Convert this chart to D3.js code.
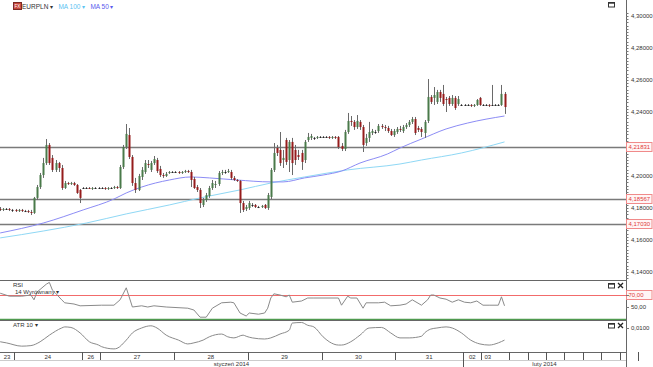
<!DOCTYPE html>
<html lang="pl">
<head>
<meta charset="UTF-8" />
<title>EURPLN</title>
<style>
    html, body { margin: 0; padding: 0; background: #fff; }
    svg { display: block; font-family: "Liberation Sans", Arial, sans-serif; }
    .lbl { font-size: 6px; fill: #333; }
</style>
</head>
<body>
<svg id="chart" width="653" height="367"></svg>
<script src="https://cdn.jsdelivr.net/npm/d3@7"></script>
<script>
// hourly EURPLN candles
const days = ["23", "24", "26", "27", "28", "29", "30", "31", "02", "03"];
const daySlots = [5, 22, 6, 24, 24, 24, 24, 22, 6, 9];
const futureSlots = [6, 6, 6, 6, 6, 6, 6];
const months = ["styczeń 2014", "luty 2014"];
const monthStartDay = [0, 8];

const opens = [
    4.1794,4.1788,4.1794,4.1794,4.1788,4.1788,4.1781,4.1788,4.1781,4.1781,
    4.1775,4.1769,4.1863,4.1931,4.2006,4.2081,4.2194,4.2113,4.2038,4.2081,
    4.2050,4.1925,4.1956,4.1950,4.1956,4.1944,4.1913,4.1925,4.1925,4.1925,
    4.1919,4.1925,4.1925,4.1925,4.1925,4.1919,4.1925,4.1925,4.1931,4.1925,
    4.2056,4.2181,4.2256,4.2119,4.1956,4.1913,4.1994,4.2025,4.2075,4.2038,
    4.2081,4.2100,4.2044,4.2006,4.2000,4.2019,4.2025,4.2025,4.2025,4.2019,
    4.2025,4.2031,4.2025,4.1981,4.1931,4.1913,4.1819,4.1850,4.1875,4.1925,
    4.1944,4.1950,4.2019,4.2025,4.2025,4.2025,4.1988,4.1975,4.1969,4.1831,
    4.1794,4.1800,4.1819,4.1819,4.1806,4.1806,4.1819,4.1800,4.1869,4.2038,
    4.2175,4.2163,4.2100,4.2225,4.2100,4.2213,4.2163,4.2131,4.2144,4.2100,
    4.2225,4.2238,4.2238,4.2238,4.2244,4.2244,4.2244,4.2244,4.2238,4.2244,
    4.2244,4.2188,4.2169,4.2275,4.2344,4.2338,4.2306,4.2338,4.2306,4.2206,
    4.2238,4.2269,4.2275,4.2281,4.2313,4.2306,4.2300,4.2281,4.2256,4.2275,
    4.2294,4.2281,4.2306,4.2319,4.2338,4.2356,4.2300,4.2294,4.2269,4.2344,
    4.2494,4.2488,4.2463,4.2525,4.2513,4.2481,4.2488,4.2450,4.2488,4.2450,
    4.2444,4.2444,4.2444,4.2444,4.2438,4.2444,4.2488,4.2444,4.2444,4.2444,
    4.2444,4.2444,4.2444,4.2444,4.2513
];
const highs = [
    4.1806,4.1800,4.1800,4.1800,4.1794,4.1794,4.1794,4.1794,4.1788,4.1788,
    4.1788,4.1869,4.1944,4.2019,4.2113,4.2231,4.2206,4.2131,4.2100,4.2088,
    4.2069,4.1969,4.1963,4.1963,4.1963,4.1950,4.1919,4.1931,4.1931,4.1931,
    4.1931,4.1931,4.1931,4.1931,4.1931,4.1931,4.1931,4.1938,4.1938,4.2069,
    4.2194,4.2325,4.2300,4.2131,4.1988,4.2013,4.2056,4.2100,4.2100,4.2094,
    4.2125,4.2113,4.2063,4.2019,4.2025,4.2031,4.2031,4.2031,4.2031,4.2031,
    4.2038,4.2038,4.2038,4.1994,4.1944,4.1925,4.1863,4.1894,4.1938,4.1975,
    4.1969,4.2031,4.2038,4.2038,4.2044,4.2038,4.2000,4.1981,4.1975,4.1844,
    4.1819,4.1844,4.1831,4.1825,4.1813,4.1819,4.1825,4.1894,4.2050,4.2206,
    4.2194,4.2275,4.2163,4.2238,4.2225,4.2238,4.2194,4.2163,4.2163,4.2225,
    4.2269,4.2263,4.2244,4.2250,4.2250,4.2250,4.2250,4.2250,4.2250,4.2250,
    4.2250,4.2206,4.2288,4.2394,4.2375,4.2350,4.2381,4.2350,4.2319,4.2263,
    4.2338,4.2294,4.2288,4.2325,4.2325,4.2319,4.2313,4.2294,4.2294,4.2306,
    4.2313,4.2319,4.2331,4.2350,4.2369,4.2369,4.2313,4.2306,4.2350,4.2606,
    4.2506,4.2556,4.2538,4.2538,4.2569,4.2494,4.2500,4.2506,4.2500,4.2500,
    4.2450,4.2450,4.2450,4.2450,4.2450,4.2481,4.2494,4.2450,4.2450,4.2450,
    4.2569,4.2450,4.2450,4.2569,4.2525
];
const lows = [
    4.1781,4.1781,4.1788,4.1781,4.1775,4.1775,4.1775,4.1775,4.1775,4.1769,
    4.1756,4.1763,4.1850,4.1919,4.1988,4.2069,4.2069,4.2025,4.2025,4.2025,
    4.1913,4.1919,4.1944,4.1944,4.1938,4.1888,4.1831,4.1919,4.1919,4.1919,
    4.1913,4.1919,4.1919,4.1919,4.1913,4.1913,4.1919,4.1919,4.1919,4.1919,
    4.2044,4.2169,4.2106,4.1938,4.1894,4.1906,4.1975,4.2013,4.2050,4.2025,
    4.2069,4.2019,4.1994,4.1988,4.1994,4.2013,4.2019,4.2019,4.2013,4.2013,
    4.2019,4.2019,4.1931,4.1919,4.1900,4.1800,4.1806,4.1838,4.1863,4.1913,
    4.1925,4.1938,4.2006,4.2013,4.2019,4.1975,4.1969,4.1963,4.1769,4.1775,
    4.1781,4.1788,4.1806,4.1800,4.1800,4.1800,4.1794,4.1788,4.1856,4.2025,
    4.2125,4.2063,4.2050,4.2069,4.2025,4.2006,4.2069,4.2100,4.2038,4.2081,
    4.2213,4.2225,4.2225,4.2231,4.2238,4.2238,4.2238,4.2231,4.2231,4.2231,
    4.2169,4.2156,4.2156,4.2263,4.2313,4.2288,4.2294,4.2288,4.2150,4.2188,
    4.2213,4.2256,4.2263,4.2269,4.2294,4.2281,4.2269,4.2250,4.2244,4.2263,
    4.2275,4.2269,4.2294,4.2306,4.2325,4.2256,4.2275,4.2244,4.2238,4.2331,
    4.2450,4.2444,4.2450,4.2463,4.2438,4.2400,4.2438,4.2438,4.2413,4.2438,
    4.2438,4.2438,4.2438,4.2431,4.2431,4.2438,4.2438,4.2438,4.2438,4.2431,
    4.2438,4.2438,4.2438,4.2438,4.2388
];
const closes = [
    4.1788,4.1794,4.1794,4.1788,4.1788,4.1781,4.1788,4.1781,4.1781,4.1775,
    4.1769,4.1863,4.1931,4.2006,4.2081,4.2194,4.2081,4.2038,4.2081,4.2050,
    4.1925,4.1956,4.1950,4.1956,4.1944,4.1894,4.1863,4.1925,4.1925,4.1919,
    4.1925,4.1925,4.1925,4.1925,4.1919,4.1925,4.1925,4.1931,4.1925,4.2056,
    4.2181,4.2263,4.2119,4.1956,4.1913,4.2000,4.2038,4.2081,4.2069,4.2081,
    4.2106,4.2031,4.2006,4.2000,4.2013,4.2025,4.2025,4.2025,4.2019,4.2025,
    4.2031,4.2025,4.1975,4.1925,4.1913,4.1831,4.1850,4.1881,4.1925,4.1956,
    4.1950,4.2019,4.2025,4.2025,4.2031,4.1988,4.1975,4.1969,4.1831,4.1788,
    4.1806,4.1831,4.1819,4.1806,4.1806,4.1813,4.1800,4.1881,4.2038,4.2144,
    4.2144,4.2081,4.2113,4.2088,4.2213,4.2081,4.2100,4.2119,4.2088,4.2213,
    4.2244,4.2250,4.2238,4.2244,4.2244,4.2244,4.2244,4.2238,4.2244,4.2238,
    4.2181,4.2169,4.2275,4.2344,4.2338,4.2306,4.2344,4.2306,4.2194,4.2238,
    4.2275,4.2281,4.2275,4.2313,4.2306,4.2300,4.2281,4.2256,4.2281,4.2294,
    4.2288,4.2306,4.2319,4.2338,4.2356,4.2269,4.2288,4.2275,4.2338,4.2494,
    4.2463,4.2506,4.2525,4.2488,4.2450,4.2475,4.2450,4.2488,4.2425,4.2481,
    4.2444,4.2444,4.2444,4.2438,4.2444,4.2475,4.2444,4.2444,4.2444,4.2438,
    4.2444,4.2444,4.2444,4.2513,4.2431
];

// moving averages, sampled at candle indexes
const ma50Idx = [0, 14, 27, 37, 41, 46, 55, 62, 68, 77, 88, 92, 99, 105, 111, 117, 126, 130, 137, 145, 152, 164];
const ma50Val = [4.1644, 4.1706, 4.1788, 4.1856, 4.1894, 4.1931, 4.1975, 4.1994, 4.1988, 4.1975, 4.1963,
                 4.1963, 4.1988, 4.2006, 4.2031, 4.2081, 4.2138, 4.2175, 4.2231, 4.2294, 4.2331, 4.2375];
const ma100Idx = [0, 14, 28, 41, 55, 65, 78, 88, 99, 113, 130, 137, 150, 164];
const ma100Val = [4.1613, 4.1656, 4.1706, 4.1763, 4.1819, 4.1863, 4.1913, 4.1956, 4.1994, 4.2038,
                  4.2075, 4.2100, 4.2144, 4.2213];

const levels = [4.21831, 4.18567, 4.17030];
const priceTicks = [4.14, 4.16, 4.18, 4.20, 4.22, 4.24, 4.26, 4.28, 4.30];

const rsiIdx = [0, 3, 7, 10, 11, 12, 15, 16, 17, 18, 20, 21, 24, 26, 33, 37, 39, 41, 43, 46, 48, 50, 54,
                61, 63, 65, 67, 69, 72, 75, 76, 78, 80, 81, 84, 86, 87, 88, 89, 91, 93, 94, 95, 98, 100,
                102, 110, 111, 113, 114, 116, 118, 119, 123, 125, 127, 130, 132, 134, 137, 139, 140,
                141, 143, 145, 147, 149, 151, 153, 155, 157, 159, 162, 163, 164];
const rsiVal = [73, 68, 68, 70, 62, 75, 88, 91, 78, 73, 62, 57, 55, 52, 53, 53, 62, 82, 50, 52, 50, 52, 50,
                48, 45, 33, 33, 48, 57, 58, 57, 40, 35, 40, 38, 40, 48, 65, 72, 70, 67, 70, 58, 60, 65,
                65, 65, 53, 68, 65, 65, 48, 57, 57, 58, 52, 53, 55, 62, 53, 62, 70,
                70, 65, 63, 58, 62, 58, 57, 60, 53, 53, 53, 67, 52];
const rsiLevels = [70, 30];

const atrIdx = [0, 2, 7, 10, 13, 16, 20, 21, 23, 26, 29, 32, 33, 37, 38, 41, 43, 46, 49, 51, 54, 58, 61,
                63, 66, 68, 72, 74, 76, 79, 80, 82, 86, 88, 91, 94, 95, 98, 100, 102, 105, 107, 110,
                111, 114, 117, 120, 124, 127, 130, 133, 137, 138, 140, 142, 145, 147, 150, 153, 156,
                159, 162, 164];
const atrVal = [0.0075, 0.0073, 0.0067, 0.0068, 0.0075, 0.0087, 0.0100, 0.0102, 0.0101, 0.0091, 0.0075,
                0.0069, 0.0066, 0.0062, 0.0063, 0.0078, 0.0091, 0.0100, 0.0104, 0.0100, 0.0087, 0.0078,
                0.0071, 0.0073, 0.0078, 0.0084, 0.0089, 0.0084, 0.0082, 0.0087, 0.0085, 0.0082, 0.0080,
                0.0082, 0.0089, 0.0096, 0.0109, 0.0110, 0.0105, 0.0102, 0.0084, 0.0075, 0.0069, 0.0069,
                0.0075, 0.0087, 0.0100, 0.0101, 0.0091, 0.0082, 0.0082, 0.0085, 0.0091, 0.0098, 0.0100,
                0.0102, 0.0100, 0.0091, 0.0078, 0.0071, 0.0069, 0.0073, 0.0078];

const svg = d3.select("#chart");
const axisX = 626;

const x = d3.scaleLinear().domain([5, 151]).range([14, 463]);
const cx = i => x(i + 0.5);
const y = d3.scaleLinear().domain([4.14, 4.30]).range([272, 16]);
const yRsi = d3.scaleLinear().domain([30, 70]).range([319, 295]);
const yAtr = d3.scaleLinear().domain([0.006, 0.010]).range([350, 328]);
const comma = f => v => d3.format(f)(v).replace(".", ",");

const defs = svg.append("defs");
[["clipMain", 0, 280], ["clipRsi", 281, 320], ["clipAtr", 321, 352]].forEach(([id, t, b]) => {
    defs.append("clipPath").attr("id", id)
        .append("rect").attr("x", 0).attr("y", t).attr("width", axisX).attr("height", b - t);
});

// level lines
const main = svg.append("g").attr("clip-path", "url(#clipMain)");
main.selectAll(".level").data(levels).enter().append("line")
    .attr("x1", 0).attr("x2", axisX)
    .attr("y1", d => Math.round(y(d)) + 0.5).attr("y2", d => Math.round(y(d)) + 0.5)
    .attr("stroke", "#7a7a7a").attr("stroke-width", 1.3);

// moving averages
const maLine = (idx, val) => d3.line().curve(d3.curveMonotoneX)
    .x((d, k) => cx(idx[k])).y(d => y(d))(val);
main.append("path").attr("d", maLine(ma100Idx, ma100Val))
    .attr("fill", "none").attr("stroke", "#8fd8f5").attr("stroke-width", 1);
main.append("path").attr("d", maLine(ma50Idx, ma50Val))
    .attr("fill", "none").attr("stroke", "#8c8cf5").attr("stroke-width", 1);

// candles
const idx = d3.range(closes.length);
main.selectAll(".wick").data(idx).enter().append("line")
    .attr("x1", i => Math.round(cx(i)) + 0.5).attr("x2", i => Math.round(cx(i)) + 0.5)
    .attr("y1", i => y(highs[i])).attr("y2", i => y(lows[i]))
    .attr("stroke", "#6a6a6a").attr("stroke-width", 1);
main.selectAll(".body").data(idx).enter().append("rect")
    .attr("x", i => Math.round(cx(i)) - 0.5)
    .attr("width", 2)
    .attr("y", i => y(Math.max(opens[i], closes[i])))
    .attr("height", i => Math.max(1, Math.abs(y(opens[i]) - y(closes[i]))))
    .attr("fill", i => closes[i] > opens[i] ? "#4a7a4a" : closes[i] < opens[i] ? "#951c1c" : "#222");

// panels borders
const border = "#666";
[280.5, 320.5, 352.5].forEach(v => {
    svg.append("line").attr("x1", 0).attr("x2", axisX).attr("y1", v).attr("y2", v)
        .attr("stroke", border).attr("stroke-width", 1);
});
svg.append("line").attr("x1", axisX + 0.5).attr("x2", axisX + 0.5).attr("y1", 0).attr("y2", 367)
    .attr("stroke", border);

// price axis
const minor = d3.range(4.136, 4.3021, 0.002);
svg.selectAll(".mtick").data(minor).enter().append("line")
    .attr("x1", axisX).attr("x2", axisX + 2.5)
    .attr("y1", d => Math.round(y(d)) + 0.5).attr("y2", d => Math.round(y(d)) + 0.5)
    .attr("stroke", "#777");
const shownTicks = priceTicks.filter(t => levels.every(l => Math.abs(y(t) - y(l)) > 7));
svg.selectAll(".ptick").data(shownTicks).enter().append("text")
    .attr("class", "lbl").attr("x", 631).attr("y", d => y(d) + 2.2)
    .text(comma(".5f"));

function flag(yy, txt) {
    svg.append("rect").attr("x", axisX + 0.5).attr("y", Math.round(yy) - 4.5)
        .attr("width", 25.5).attr("height", 9)
        .attr("fill", "#fff5f5").attr("stroke", "#f08a8a").attr("stroke-width", 1);
    svg.append("text").attr("class", "lbl").attr("x", axisX + 2.5).attr("y", Math.round(yy) + 2.3)
        .style("fill", "#e03a3a").text(txt);
}
levels.forEach(l => flag(y(l), comma(".5f")(l)));

// RSI panel
const rsi = svg.append("g").attr("clip-path", "url(#clipRsi)");
rsi.selectAll(".rl").data(rsiLevels).enter().append("line")
    .attr("x1", 0).attr("x2", axisX)
    .attr("y1", d => Math.round(yRsi(d)) + 0.5).attr("y2", d => Math.round(yRsi(d)) + 0.5)
    .attr("stroke", (d, k) => k === 0 ? "#f26b6b" : "#4f9a4f").attr("stroke-width", (d, k) => k === 0 ? 1 : 1.4);
rsi.append("path")
    .attr("d", d3.line().x((d, k) => cx(rsiIdx[k])).y(d => yRsi(d))(rsiVal))
    .attr("fill", "none").attr("stroke", "#8a8a8a").attr("stroke-width", 1);
svg.append("text").attr("class", "lbl").attr("x", 13).attr("y", 287).text("RSI");
svg.append("text").attr("class", "lbl").attr("x", 15).attr("y", 293.5).text("14 Wyrównany ▾");
flag(yRsi(70), comma(".2f")(70));
svg.append("text").attr("class", "lbl").attr("x", 631).attr("y", yRsi(50) + 2.2).text(comma(".2f")(50));

// ATR panel
const atr = svg.append("g").attr("clip-path", "url(#clipAtr)");
atr.append("path")
    .attr("d", d3.line().curve(d3.curveMonotoneX).x((d, k) => cx(atrIdx[k])).y(d => yAtr(d))(atrVal))
    .attr("fill", "none").attr("stroke", "#8a8a8a").attr("stroke-width", 1);
svg.append("text").attr("class", "lbl").attr("x", 13).attr("y", 327).text("ATR 10 ▾");
svg.append("text").attr("class", "lbl").attr("x", 631).attr("y", yAtr(0.01) + 2.2).text(comma(".4f")(0.01));
[yRsi(70), yRsi(50), yAtr(0.01)].forEach(v => {
    svg.append("line").attr("x1", axisX).attr("x2", axisX + 3)
        .attr("y1", Math.round(v) + 0.5).attr("y2", Math.round(v) + 0.5).attr("stroke", "#777");
});

// panel buttons
function buttons(top, close) {
    svg.append("rect").attr("x", 608.5).attr("y", top + 0.5).attr("width", 6).attr("height", 4.5)
        .attr("fill", "none").attr("stroke", "#333");
    svg.append("rect").attr("x", 608.5).attr("y", top + 0.5).attr("width", 6).attr("height", 1.2)
        .attr("fill", "#333");
    if (close) {
        svg.append("path").attr("d", `M618,${top} l5,5 M623,${top} l-5,5`)
            .attr("stroke", "#222").attr("stroke-width", 1.3);
    }
}
buttons(2, false);
buttons(283, true);
buttons(323, true);

// legend
svg.append("rect").attr("x", 13.5).attr("y", 2.5).attr("width", 8).attr("height", 7)
    .attr("fill", "#c8463c").attr("stroke", "#7a2a24");
svg.append("text").attr("x", 14.5).attr("y", 8).attr("font-size", 4.5).attr("fill", "#fff").text("FX");
const legend = [["EURPLN", "#333"], ["MA 100", "#5cc3f2"], ["MA 50", "#5a5aee"]];
let lx = 22;
legend.forEach(([t, c]) => {
    const tx = svg.append("text").attr("x", lx).attr("y", 8.5).attr("font-size", 6.5).attr("fill", c).text(t);
    const w = tx.node().getComputedTextLength();
    svg.append("text").attr("x", lx + w + 1.5).attr("y", 8.5).attr("font-size", 5.5).attr("fill", c).text("▾");
    lx += w + 10;
});

// time axis
let start = 0;
const cells = [];
daySlots.forEach((n, k) => { cells.push({ label: days[k], a: start, b: start + n }); start += n; });
const futureCuts = [];
futureSlots.forEach(n => { start += n; futureCuts.push(start); });
const cuts = cells.map(c => c.b).concat(futureCuts);
svg.selectAll(".dcut").data(cuts).enter().append("line")
    .attr("x1", d => Math.round(x(d)) + 0.5).attr("x2", d => Math.round(x(d)) + 0.5)
    .attr("y1", 352).attr("y2", 361).attr("stroke", "#555");
svg.append("line").attr("x1", 0).attr("x2", axisX).attr("y1", 360.5).attr("y2", 360.5).attr("stroke", "#ccc");
svg.selectAll(".dlbl").data(cells).enter().append("text")
    .attr("class", "lbl")
    .attr("x", (d, k) => k === cells.length - 1 ? x(d.a) + 3 : (Math.max(0, x(d.a)) + x(d.b)) / 2)
    .attr("text-anchor", (d, k) => k === cells.length - 1 ? "start" : "middle")
    .attr("y", 358.5).text(d => d.label);

const monthCut = x(cells[monthStartDay[1]].a);
svg.append("line").attr("x1", Math.round(monthCut) + 0.5).attr("x2", Math.round(monthCut) + 0.5)
    .attr("y1", 352).attr("y2", 367).attr("stroke", "#555");
const monthSpans = [[0, monthCut], [monthCut, axisX]];
months.forEach((m, k) => {
    svg.append("text").attr("class", "lbl").attr("text-anchor", "middle")
        .attr("x", (monthSpans[k][0] + monthSpans[k][1]) / 2).attr("y", 366).text(m);
});
</script>
</body>
</html>
